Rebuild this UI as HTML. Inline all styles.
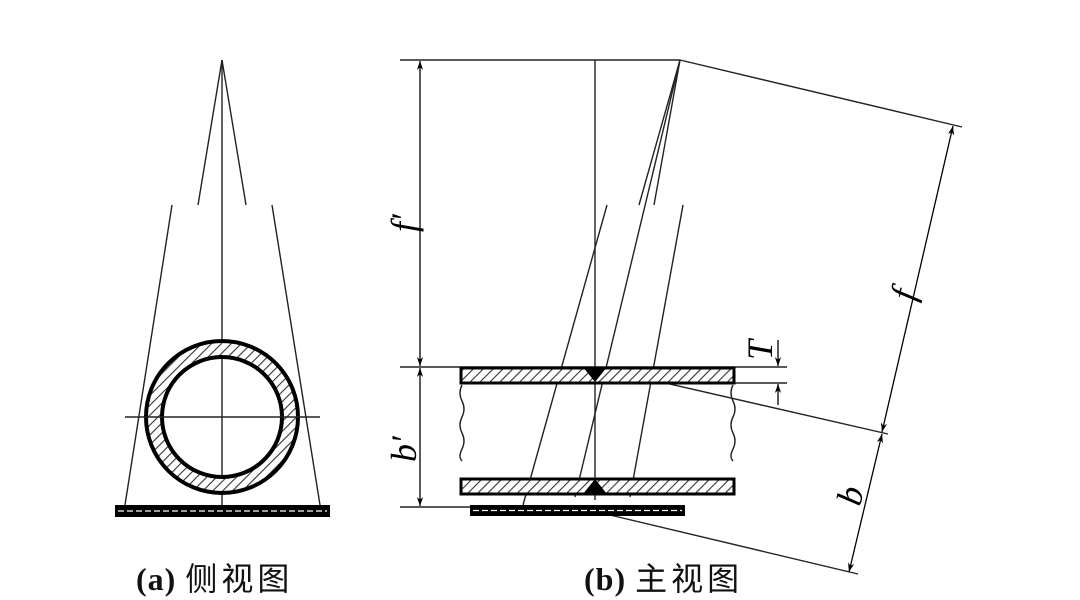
<!DOCTYPE html>
<html><head><meta charset="utf-8"><style>body{margin:0;background:#fff}svg{display:block}</style></head><body>
<svg width="1080" height="600" viewBox="0 0 1080 600" xmlns="http://www.w3.org/2000/svg">
<defs>
<pattern id="h" width="7" height="7" patternUnits="userSpaceOnUse" patternTransform="rotate(45)">
<rect width="7" height="7" fill="#fff"/><line x1="0" y1="0" x2="0" y2="7" stroke="#333" stroke-width="2.2"/></pattern>
<marker id="a" viewBox="0 0 10 10" refX="10" refY="5" markerWidth="9" markerHeight="9" orient="auto-start-reverse" markerUnits="userSpaceOnUse"><path d="M0,1.5 L10,5 L0,8.5 L3,5z" fill="#000"/></marker>
</defs>
<rect width="1080" height="600" fill="#fff"/>
<g stroke="#222" stroke-width="1.4" fill="none">
<line x1="222" y1="60" x2="222" y2="508"/>
<line x1="222" y1="60" x2="198" y2="205"/>
<line x1="222" y1="60" x2="246" y2="205"/>
<line x1="172" y1="205" x2="125" y2="505"/>
<line x1="272" y1="205" x2="320" y2="505"/>
<circle cx="222" cy="417" r="68" stroke="url(#h)" stroke-width="14"/>
<circle cx="222" cy="417" r="76" stroke="#000" stroke-width="4"/>
<circle cx="222" cy="417" r="60" stroke="#000" stroke-width="4"/>
<line x1="125" y1="417" x2="320" y2="417"/>
<line x1="400" y1="60" x2="680" y2="60"/>
<line x1="680" y1="60" x2="962" y2="127"/>
<line x1="595" y1="60" x2="595" y2="500"/>
<line x1="680" y1="60" x2="639" y2="205"/>
<line x1="680" y1="60" x2="654" y2="205"/>
<line x1="680" y1="60" x2="575" y2="497"/>
<line x1="607" y1="205" x2="523" y2="505"/>
<line x1="683" y1="205" x2="630" y2="497"/>
<line x1="400" y1="367" x2="787" y2="367"/>
<line x1="735" y1="383" x2="787" y2="383"/>
<line x1="400" y1="507" x2="470" y2="507"/>
<line x1="600" y1="368" x2="888" y2="434"/>
<line x1="610" y1="515" x2="858" y2="574"/>
<path d="M462,385 q-4,8 0,16 q4,8 0,16 q-4,8 0,16 q4,8 0,16 q-4,8 0,12"/>
<path d="M733,385 q-4,8 0,16 q4,8 0,16 q-4,8 0,16 q4,8 0,16 q-4,8 0,12"/>
</g>
<rect x="461" y="368" width="273" height="15" fill="url(#h)" stroke="#000" stroke-width="3"/>
<rect x="461" y="479" width="273" height="15" fill="url(#h)" stroke="#000" stroke-width="3"/>
<path d="M583,367 L607,367 L595,382z" fill="#000"/>
<path d="M583,494 L607,494 L595,479z" fill="#000"/>
<rect x="115" y="505" width="215" height="12" fill="#000"/>
<line x1="118" y1="511" x2="327" y2="511" stroke="#fff" stroke-width="1.2" stroke-dasharray="6,3"/>
<rect x="470" y="505" width="215" height="11" fill="#000"/>
<line x1="473" y1="510.5" x2="682" y2="510.5" stroke="#fff" stroke-width="1.2" stroke-dasharray="6,3"/>
<g stroke="#000" stroke-width="1.3" marker-start="url(#a)" marker-end="url(#a)">
<line x1="420" y1="61" x2="420" y2="366"/>
<line x1="420" y1="368" x2="420" y2="506"/>
<line x1="953" y1="126" x2="882" y2="432"/>
<line x1="882" y1="434" x2="849" y2="572"/>
</g>
<g stroke="#000" stroke-width="1.3">
<line x1="778" y1="340" x2="778" y2="366" marker-end="url(#a)"/>
<line x1="778" y1="405" x2="778" y2="384" marker-end="url(#a)"/>
</g>
<g font-family="Liberation Serif, serif" font-style="italic" font-size="36" fill="#000">
<text transform="translate(416,232) rotate(-90)">f′</text>
<text transform="translate(416,462) rotate(-90)">b′</text>
<text transform="translate(772,360) rotate(-90)">T</text>
<text transform="translate(914,302) rotate(-77)">f</text>
<text transform="translate(860,507) rotate(-77)">b</text>
</g>
<g font-size="32" fill="#111">
<text x="136" y="590"><tspan font-family="Liberation Serif, serif" font-weight="bold" letter-spacing="1">(a) </tspan><tspan font-family="'Noto Sans CJK SC', sans-serif" letter-spacing="4">侧视图</tspan></text>
<text x="584" y="590"><tspan font-family="Liberation Serif, serif" font-weight="bold" letter-spacing="1">(b) </tspan><tspan font-family="'Noto Sans CJK SC', sans-serif" letter-spacing="4">主视图</tspan></text>
</g>
</svg>
</body></html>
